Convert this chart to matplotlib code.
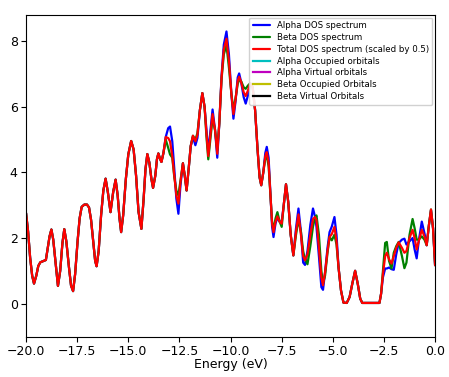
import matplotlib
matplotlib.use("Agg")
import matplotlib.pyplot as plt

energy = [-20.00, -19.90, -19.80, -19.70, -19.61, -19.50, -19.40, -19.30, -19.15, -19.03,
          -18.95, -18.85, -18.76, -18.67, -18.55, -18.44, -18.33, -18.22, -18.13, -18.03,
          -17.90, -17.80, -17.70, -17.60, -17.48, -17.38, -17.28, -17.15, -17.02, -16.92,
          -16.82, -16.70, -16.62, -16.55, -16.45, -16.33, -16.22, -16.11, -16.00, -15.87,
          -15.74, -15.62, -15.52, -15.43, -15.35, -15.25, -15.12, -15.00, -14.86, -14.74,
          -14.62, -14.50, -14.36, -14.25, -14.16, -14.07, -13.97, -13.87, -13.79, -13.68,
          -13.60, -13.53, -13.45, -13.38, -13.28, -13.17, -13.05, -12.96, -12.85, -12.75,
          -12.65, -12.55, -12.45, -12.33, -12.24, -12.15, -12.05, -11.95, -11.84, -11.72,
          -11.62, -11.50, -11.38, -11.27, -11.18, -11.09, -10.99, -10.88, -10.76, -10.65,
          -10.55, -10.44, -10.33, -10.20, -10.08, -9.96, -9.86, -9.76, -9.65, -9.58,
          -9.48, -9.36, -9.26, -9.15, -9.04, -8.92, -8.80, -8.68, -8.58, -8.50,
          -8.40, -8.30, -8.23, -8.14, -8.05, -7.97, -7.90, -7.80, -7.71, -7.60,
          -7.50, -7.40, -7.29, -7.18, -7.06, -6.93, -6.80, -6.68, -6.56, -6.45,
          -6.36, -6.24, -6.10, -5.97, -5.87, -5.80, -5.68, -5.56, -5.48, -5.38,
          -5.26, -5.16, -5.05, -4.92, -4.82, -4.72, -4.60, -4.48, -4.32, -4.18,
          -4.05, -3.91, -3.78, -3.66, -3.56, -2.72, -2.64, -2.55, -2.44, -2.36,
          -2.25, -2.13, -2.02, -1.90, -1.78, -1.62, -1.50, -1.40, -1.25, -1.10,
          -1.00, -0.90, -0.80, -0.65, -0.52, -0.41, -0.30, -0.20, -0.10, 0.00]

total_dos = [2.76, 2.20, 1.40, 0.85, 0.61, 0.85, 1.15, 1.26, 1.30, 1.33,
             1.65, 2.05, 2.26, 1.95, 1.20, 0.54, 1.00, 1.85, 2.27, 1.90,
             1.10, 0.55, 0.38, 0.90, 1.90, 2.60, 2.95, 3.02, 3.02, 2.93,
             2.55, 1.80, 1.30, 1.14, 1.60, 2.70, 3.45, 3.81, 3.40, 2.79,
             3.40, 3.78, 3.30, 2.60, 2.18, 2.70, 3.80, 4.55, 4.96, 4.70,
             3.90, 2.80, 2.28, 3.20, 4.10, 4.56, 4.30, 3.80, 3.53, 3.90,
             4.40, 4.58, 4.42, 4.32, 4.60, 5.08, 5.05, 4.95, 4.50, 3.90,
             3.30, 3.05, 3.70, 4.28, 3.90, 3.45, 4.10, 4.80, 5.12, 4.95,
             5.15, 5.90, 6.42, 6.00, 5.20, 4.50, 5.10, 5.78, 5.30, 4.57,
             5.50, 6.90, 7.75, 8.08, 7.40, 6.40, 5.78, 6.20, 6.80, 6.92,
             6.75, 6.45, 6.33, 6.50, 6.72, 6.60, 5.90, 4.70, 3.85, 3.61,
             4.00, 4.50, 4.62, 4.30, 3.30, 2.45, 2.18, 2.50, 2.66, 2.50,
             2.44, 3.00, 3.64, 3.10, 2.10, 1.47, 2.20, 2.72, 2.10, 1.45,
             1.32, 1.50, 2.10, 2.58, 2.64, 2.55, 1.70, 0.80, 0.56, 0.95,
             1.60, 2.03, 2.12, 2.34, 1.90, 1.10, 0.40, 0.03, 0.02, 0.20,
             0.60, 1.00, 0.60, 0.15, 0.02, 0.02, 0.30, 0.90, 1.45, 1.55,
             1.35, 1.22, 1.45, 1.70, 1.87, 1.70, 1.55, 1.60, 2.00, 2.25,
             2.00, 1.65, 1.90, 2.25, 2.05, 1.78, 2.40, 2.87, 2.30, 1.17]

alpha_dos = [2.76, 2.20, 1.40, 0.85, 0.61, 0.85, 1.15, 1.26, 1.30, 1.33,
             1.65, 2.05, 2.26, 1.95, 1.20, 0.54, 1.00, 1.85, 2.27, 1.90,
             1.10, 0.55, 0.38, 0.90, 1.90, 2.60, 2.95, 3.02, 3.02, 2.93,
             2.55, 1.80, 1.30, 1.14, 1.60, 2.70, 3.45, 3.81, 3.40, 2.79,
             3.40, 3.78, 3.30, 2.60, 2.18, 2.70, 3.80, 4.55, 4.96, 4.70,
             3.90, 2.80, 2.28, 3.20, 4.10, 4.56, 4.30, 3.80, 3.53, 3.90,
             4.40, 4.58, 4.42, 4.32, 4.60, 5.08, 5.35, 5.40, 4.95, 4.10,
             3.20, 2.74, 3.60, 4.28, 3.90, 3.45, 4.10, 4.80, 5.08, 4.83,
             5.05, 5.90, 6.42, 6.00, 5.30, 4.62, 5.25, 5.92, 5.30, 4.45,
             5.50, 6.95, 7.90, 8.30, 7.60, 6.40, 5.64, 6.15, 6.90, 7.02,
             6.75, 6.30, 6.10, 6.35, 6.72, 6.60, 5.90, 4.70, 3.85, 3.61,
             4.00, 4.60, 4.78, 4.45, 3.35, 2.35, 2.03, 2.45, 2.62, 2.50,
             2.50, 3.00, 3.64, 3.10, 2.10, 1.47, 2.30, 2.90, 2.20, 1.25,
             1.18, 1.60, 2.40, 2.90, 2.65, 2.35, 1.45, 0.50, 0.42, 0.95,
             1.70, 2.18, 2.35, 2.64, 2.10, 1.10, 0.40, 0.03, 0.02, 0.20,
             0.60, 1.00, 0.60, 0.15, 0.02, 0.02, 0.30, 0.80, 1.07, 1.07,
             1.10, 1.05, 1.03, 1.50, 1.85, 1.95, 1.98, 1.80, 1.90, 2.00,
             1.65, 1.38, 1.90, 2.50, 2.15, 1.78, 2.40, 2.85, 2.30, 1.17]

beta_dos = [2.76, 2.20, 1.40, 0.85, 0.61, 0.85, 1.15, 1.26, 1.30, 1.33,
            1.65, 2.05, 2.26, 1.95, 1.20, 0.54, 1.00, 1.85, 2.27, 1.90,
            1.10, 0.55, 0.38, 0.90, 1.90, 2.60, 2.95, 3.02, 3.02, 2.93,
            2.55, 1.80, 1.30, 1.14, 1.60, 2.70, 3.45, 3.81, 3.40, 2.79,
            3.40, 3.78, 3.30, 2.60, 2.18, 2.70, 3.80, 4.55, 4.96, 4.70,
            3.90, 2.80, 2.28, 3.20, 4.10, 4.56, 4.30, 3.80, 3.53, 3.90,
            4.40, 4.58, 4.42, 4.32, 4.60, 5.00, 4.75, 4.55, 4.45, 3.85,
            3.45, 3.30, 3.75, 4.28, 3.90, 3.45, 4.10, 4.80, 5.12, 5.00,
            5.20, 5.90, 6.42, 6.00, 5.10, 4.40, 5.00, 5.65, 5.30, 4.68,
            5.50, 6.85, 7.60, 7.88, 7.20, 6.40, 5.90, 6.25, 6.70, 6.82,
            6.78, 6.60, 6.55, 6.65, 6.72, 6.60, 5.90, 4.70, 3.85, 3.61,
            4.00, 4.45, 4.50, 4.20, 3.30, 2.50, 2.25, 2.60, 2.79, 2.50,
            2.34, 3.00, 3.64, 3.10, 2.10, 1.47, 2.10, 2.55, 2.20, 1.60,
            1.35, 1.20, 1.75, 2.35, 2.62, 2.69, 2.10, 1.00, 0.62, 0.85,
            1.55, 2.03, 1.93, 2.10, 1.80, 1.10, 0.40, 0.03, 0.02, 0.20,
            0.60, 1.00, 0.60, 0.15, 0.02, 0.02, 0.30, 1.00, 1.85, 1.88,
            1.30, 1.07, 1.55, 1.75, 1.88, 1.45, 1.08, 1.25, 2.10, 2.58,
            2.30, 1.95, 1.95, 2.05, 1.95, 1.78, 2.40, 2.87, 2.30, 1.17]

x_ticks = [-20.0, -17.5, -15.0, -12.5, -10.0, -7.5, -5.0, -2.5, 0.0]
y_ticks = [0, 2, 4, 6, 8]

fig = plt.figure(figsize=(4.49, 3.77), dpi=100)
ax = fig.add_axes([0.058, 0.106, 0.911, 0.854])

kw = dict(lw=1.6, solid_joinstyle="round", solid_capstyle="round")
ax.plot(energy, alpha_dos, color="b", label="Alpha DOS spectrum", **kw)
ax.plot(energy, beta_dos, color="g", label="Beta DOS spectrum", **kw)
ax.plot(energy, total_dos, color="r", label="Total DOS spectrum (scaled by 0.5)", **kw)
ax.plot([], [], color="c", lw=1.6, label="Alpha Occupied orbitals")
ax.plot([], [], color="m", lw=1.6, label="Alpha Virtual orbitals")
ax.plot([], [], color="y", lw=1.6, label="Beta Occupied Orbitals")
ax.plot([], [], color="k", lw=1.6, label="Beta Virtual Orbitals")

ax.set_xlim(-20, 0)
ax.set_ylim(-1.02, 8.8)
ax.set_xticks(x_ticks)
ax.set_yticks(y_ticks)
ax.set_xticklabels([("\u2212" if v < 0 else "") + f"{abs(v):.1f}" for v in x_ticks])
ax.tick_params(labelsize=9, length=3.5, width=0.8, pad=2.5)
ax.set_xlabel("Energy (eV)", fontsize=9, labelpad=0)

ax.legend(loc="upper right", fontsize=6.2, borderaxespad=0.3, handlelength=2.0,
          labelspacing=0.33, borderpad=0.4, handletextpad=0.8, framealpha=0.9)

fig.savefig("out.png", dpi=100)
